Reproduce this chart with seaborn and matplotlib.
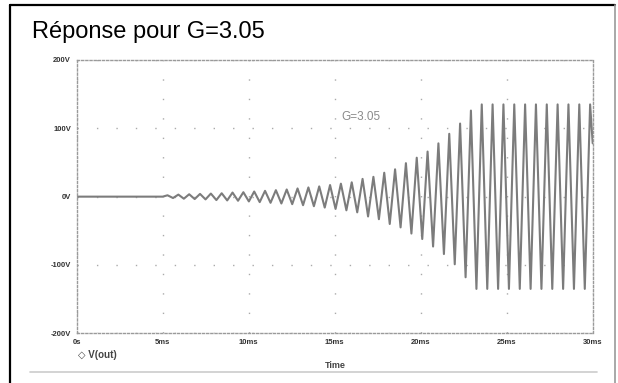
import matplotlib
matplotlib.use("Agg")
import matplotlib.pyplot as plt
import seaborn as sns
import pandas as pd
from matplotlib.lines import Line2D

# ---- data (time in ms, voltage in V) ----
flat_t = [0.0, 5.0]
flat_v = [0.0, 0.0]

extrema_t = [5.28, 5.60, 5.91, 6.23, 6.54, 6.86, 7.17, 7.49, 7.80, 8.12,
             8.43, 8.75, 9.06, 9.38, 9.69, 10.01, 10.32, 10.64, 10.95, 11.27,
             11.58, 11.90, 12.21, 12.53, 12.84, 13.16, 13.47, 13.79, 14.10, 14.42,
             14.73, 15.05, 15.36, 15.68, 15.99, 16.31, 16.62, 16.94, 17.25, 17.57,
             17.88, 18.20, 18.51, 18.83, 19.14, 19.46, 19.77, 20.09, 20.40, 20.72,
             21.03, 21.35, 21.66, 21.98, 22.29, 22.61, 22.92, 23.24, 23.55, 23.87,
             24.18, 24.50, 24.81, 25.13, 25.44, 25.76, 26.07, 26.39, 26.70, 27.02,
             27.33, 27.65, 27.96, 28.28, 28.59, 28.91, 29.22, 29.54, 29.85, 30.00]
extrema_v = [2, -2, 3, -3, 3.5, -3.5, 4, -4, 4.5, -5,
             5, -5.5, 6, -6, 6.5, -7, 7.5, -8, 8.5, -9,
             9.5, -10, 10.5, -11, 12, -12.5, 13.5, -14, 15, -16,
             17, -18, 19, -20, 21, -23, 26, -29, 29, -33,
             35, -40, 40, -45, 49, -54, 57, -62, 66, -73,
             78, -84, 92, -99, 107, -118, 126, -135, 135, -135,
             135, -135, 135, -135, 135, -135, 135, -135, 135, -135,
             135, -135, 135, -135, 135, -135, 135, -135, 135, 78]

x_ticks = [0, 5, 10, 15, 20, 25, 30]
x_labels = ["0s", "5ms", "10ms", "15ms", "20ms", "25ms", "30ms"]
y_ticks = [200, 100, 0, -100, -200]
y_labels = ["200V", "100V", "0V", "-100V", "-200V"]

title = "Réponse pour G=3.05"
annotation = "G=3.05"
legend_label = "V(out)"
x_label = "Time"

df = pd.DataFrame({"t": flat_t + extrema_t, "v": flat_v + extrema_v})

sns.set_style("white")
plt.rcParams["font.family"] = ["Liberation Sans", "DejaVu Sans"]

W, H = 618, 383
fig = plt.figure(figsize=(W / 100, H / 100), dpi=100)
ax = fig.add_axes([76.7 / W, 1 - 333.3 / H, (592.7 - 76.7) / W, (333.3 - 60) / H])

sns.lineplot(data=df, x="t", y="v", ax=ax, sort=False, estimator=None,
             color="#7c7c7c", linewidth=1.5)

ax.set_xlim(0, 30)
ax.set_ylim(-200, 200)
ax.set_xticks(x_ticks)
ax.set_xticklabels(x_labels)
ax.set_yticks(y_ticks)
ax.set_yticklabels(y_labels)
ax.tick_params(axis="both", labelsize=5.5, colors="#555555", length=2,
               direction="in", pad=4, labelcolor="#333333")
for lab in ax.get_xticklabels() + ax.get_yticklabels():
    lab.set_fontweight("bold")
ax.set_xlabel("")
ax.set_ylabel("")

ax.grid(True, color="#aaaaaa", linestyle=(0, (1, 13)), linewidth=1)
for s in ax.spines.values():
    s.set_visible(True)
    s.set_color("#9a9a9a")
    s.set_linestyle((0, (1.5, 1.5)))
    s.set_linewidth(1)

ax.text(15.4, 117, annotation, fontsize=8.5, color="#8a8a8a",
        ha="left", va="center")

fig.text(32 / W, 1 - 32 / H, title, fontsize=17, color="black",
         ha="left", va="center")
fig.text(78 / W, 1 - 355 / H, "\u25c7 " + legend_label, fontsize=7,
         fontweight="bold", color="#444444", ha="left", va="center")
fig.text(335 / W, 1 - 365 / H, x_label, fontsize=6.5, fontweight="bold",
         color="#444444", ha="center", va="center")

# outer frame
fig.add_artist(Line2D([10 / W, 10 / W], [0, 1 - 5 / H], color="black",
                      linewidth=1.6, transform=fig.transFigure))
fig.add_artist(Line2D([10 / W, 615 / W], [1 - 5 / H, 1 - 5 / H], color="black",
                      linewidth=1.6, transform=fig.transFigure))
fig.add_artist(Line2D([615 / W, 615 / W], [0, 1 - 5 / H], color="#999999",
                      linewidth=1.2, transform=fig.transFigure))
fig.add_artist(Line2D([30 / W, 597 / W], [1 - 372 / H, 1 - 372 / H],
                      color="#cccccc", linewidth=1.2, transform=fig.transFigure))

fig.savefig("out.png", dpi=100)
